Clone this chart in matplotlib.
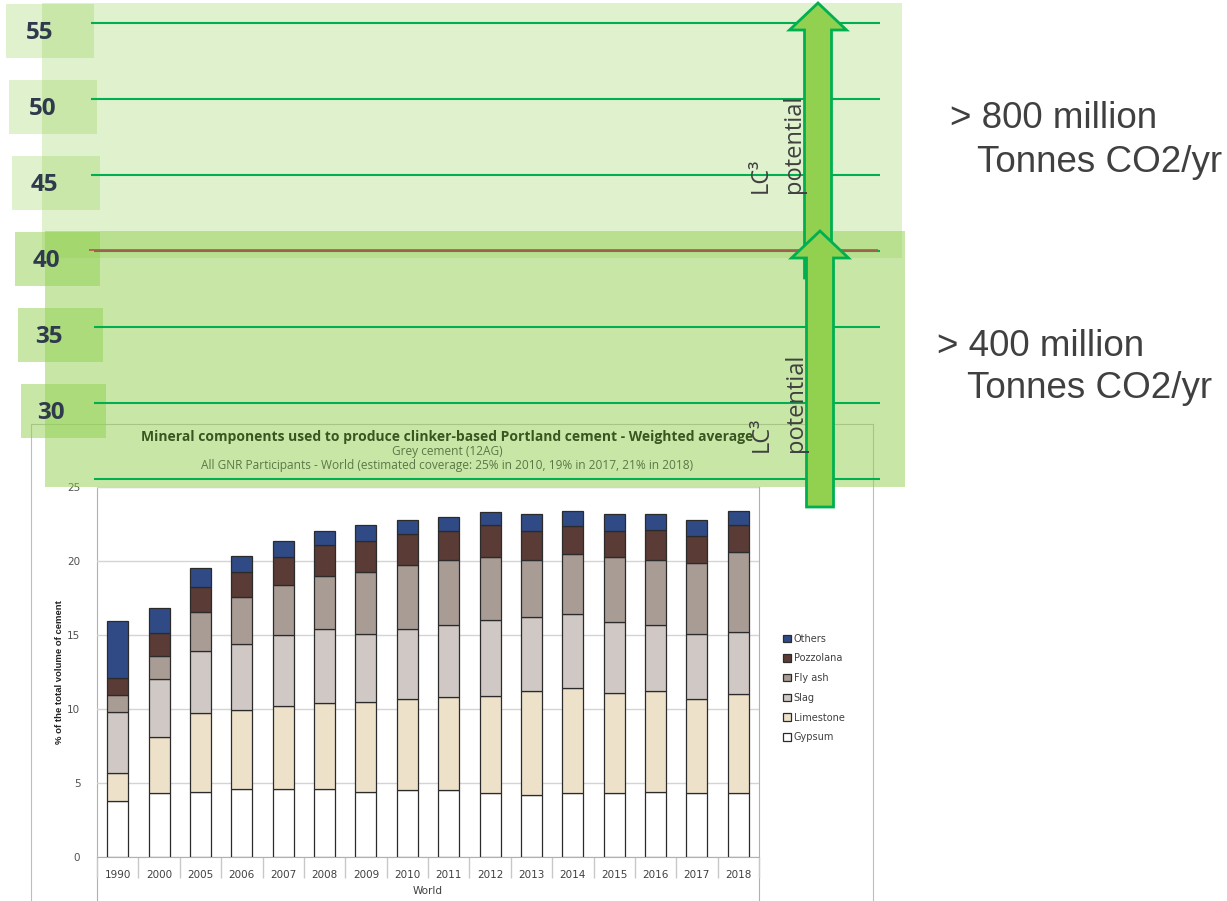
import matplotlib.pyplot as plt
import matplotlib.transforms as mtransforms
from matplotlib.patches import Rectangle, FancyArrow
import numpy as np

W, H = 1227, 901

# stacked bar data (% of the total volume of cement)
years = ['1990', '2000', '2005', '2006', '2007', '2008', '2009', '2010',
         '2011', '2012', '2013', '2014', '2015', '2016', '2017', '2018']
gypsum = [3.8, 4.3, 4.4, 4.6, 4.6, 4.6, 4.4, 4.5, 4.5, 4.3, 4.2, 4.3, 4.3, 4.4, 4.3, 4.3]
limestone = [1.9, 3.8, 5.3, 5.3, 5.6, 5.8, 6.1, 6.2, 6.3, 6.6, 7.0, 7.1, 6.8, 6.8, 6.4, 6.7]
slag = [4.1, 3.9, 4.2, 4.5, 4.8, 5.0, 4.6, 4.7, 4.9, 5.1, 5.0, 5.0, 4.8, 4.5, 4.4, 4.2]
fly_ash = [1.15, 1.55, 2.65, 3.15, 3.4, 3.6, 4.15, 4.35, 4.4, 4.3, 3.85, 4.05, 4.4, 4.4, 4.75, 5.4]
pozzolana = [1.15, 1.6, 1.7, 1.7, 1.9, 2.05, 2.1, 2.05, 1.95, 2.15, 2.0, 1.9, 1.75, 2.0, 1.85, 1.8]
others = [3.85, 1.7, 1.3, 1.1, 1.05, 1.0, 1.1, 1.0, 0.95, 0.85, 1.1, 1.0, 1.15, 1.1, 1.05, 1.0]

components = ['Gypsum', 'Limestone', 'Slag', 'Fly ash', 'Pozzolana', 'Others']
series = [gypsum, limestone, slag, fly_ash, pozzolana, others]
colors = ['#ffffff', '#ede1c9', '#cfc8c5', '#a89c95', '#5b3b36', '#2f4a85']

# overlay scale (levels on the left)
levels = [25, 30, 35, 40, 45, 50, 55]
level_labels = [55, 50, 45, 40, 35, 30]
current_level = 40

chart_title = 'Mineral components used to produce clinker-based Portland cement - Weighted average'
chart_sub1 = 'Grey cement (12AG)'
chart_sub2 = 'All GNR Participants - World (estimated coverage: 25% in 2010, 19% in 2017, 21% in 2018)'

savings = [['> 800 million', 'Tonnes CO2/yr'], ['> 400 million', 'Tonnes CO2/yr']]

GREEN = '#92d050'
DKGREEN = '#00b050'
TXT = '#404040'


def fx(x):
    return x / W


def fy(y):
    return 1 - y / H


fig = plt.figure(figsize=(W / 100, H / 100), dpi=100)

# outer chart frame and inner plot frame
ax_frame = fig.add_axes([fx(31), fy(905), (873 - 31) / W, (905 - 424) / H])
ax_frame.set_xticks([])
ax_frame.set_yticks([])
for s in ax_frame.spines.values():
    s.set_color('#bdbdbd')
ax_frame.set_zorder(0)

ax_in = fig.add_axes([fx(97), fy(905), (759 - 97) / W, (905 - 487) / H])
ax_in.set_xticks([])
ax_in.set_yticks([])
ax_in.patch.set_alpha(0)
for s in ax_in.spines.values():
    s.set_color('#b0b0b0')
ax_in.spines['bottom'].set_visible(False)
ax_in.set_zorder(1)

# the bar chart itself
ax = fig.add_axes([fx(97), fy(857), (759 - 97) / W, (857 - 487) / H])
ax.set_zorder(2)
ax.patch.set_alpha(0)
x = np.arange(len(years))
bottom = np.zeros(len(years))
handles = []
for name, vals, c in zip(components, series, colors):
    b = ax.bar(x, vals, 0.51, bottom=bottom, color=c, edgecolor='#2b2b2b',
               linewidth=0.9, label=name, zorder=3)
    handles.append(b)
    bottom += np.array(vals)

ax.set_xlim(-0.5, len(years) - 0.5)
ax.set_ylim(0, 25)
ax.set_yticks(range(0, 26, 5))
ax.grid(axis='y', color='#d4d4d4', linewidth=1)
ax.set_axisbelow(True)
ax.set_xticks(x)
ax.set_xticklabels(years)
ax.set_xticks(np.arange(-0.5, len(years)), minor=True)
ax.tick_params(axis='x', which='major', length=0, pad=9, labelsize=7.5, labelcolor=TXT)
ax.tick_params(axis='x', which='minor', length=15, color='#c8c8c8', width=1)
ax.tick_params(axis='y', length=0, pad=12, labelsize=7.5, labelcolor='#505050')
for s in ['top', 'right', 'left']:
    ax.spines[s].set_visible(False)
ax.spines['bottom'].set_color('#b0b0b0')

ax.set_ylabel('% of the total volume of cement', fontsize=6.8, fontweight='bold',
              family='Liberation Sans', color='#222222')
ax.yaxis.set_label_coords(-0.05, 0.5)
ax.set_xlabel('World', fontsize=7.5, color=TXT)
ax.xaxis.set_label_coords(0.5, -0.078)

ax.legend(handles[::-1], components[::-1], loc='center left',
          bbox_to_anchor=(fx(778), fy(688)), bbox_transform=fig.transFigure,
          frameon=False, fontsize=7, handlelength=0.8, handleheight=0.8,
          handletextpad=0.3, labelspacing=1.0, borderpad=0, labelcolor=TXT)

# green overlay rectangles (pixel coordinates)
ax_ov = fig.add_axes([0, 0, 1, 1])
ax_ov.set_xlim(0, W)
ax_ov.set_ylim(H, 0)
ax_ov.axis('off')
ax_ov.set_zorder(5)
ax_ov.add_patch(Rectangle((42, 3), 860, 255, facecolor=GREEN, alpha=0.28, lw=0))
ax_ov.add_patch(Rectangle((45, 231), 860, 256, facecolor=GREEN, alpha=0.5, lw=0))

# chart titles, seen through the overlay
ax_ov.text(447, 437, chart_title, ha='center', va='center', fontsize=10,
           fontweight='bold', family='Open Sans', color='#3a5520')
ax_ov.text(447, 452, chart_sub1, ha='center', va='center', fontsize=8.6,
           family='Open Sans', color='#5a7845')
ax_ov.text(447, 466, chart_sub2, ha='center', va='center', fontsize=8.6,
           family='Open Sans', color='#5a7845')

# level lines and labels (value coordinates on y)
px_per_unit = 15.2
top_val = max(levels) + 23 / px_per_unit
ax_lv = fig.add_axes([0, 0, 1, 1])
ax_lv.set_xlim(0, W)
ax_lv.set_ylim(top_val - H / px_per_unit, top_val)
ax_lv.axis('off')
ax_lv.set_zorder(6)
for i, v in enumerate(level_labels):
    ax_lv.add_patch(Rectangle((6 + 3 * i, v - 35 / px_per_unit), 88 if i < 3 else 85,
                              54 / px_per_unit, facecolor=GREEN,
                              alpha=0.28 if v > current_level else 0.5, lw=0, zorder=1))
    ax_lv.text(40 + 2.2 * i, v - 10 / px_per_unit, str(v), ha='center', va='center',
               fontsize=17.5, fontweight='bold', family='Open Sans', color='#2f3b4c', zorder=4)
ax_lv.hlines([v for v in levels if v > current_level], 91, 880, color=DKGREEN,
             linewidth=1.5, zorder=2)
ax_lv.hlines([v for v in levels if v <= current_level], 94, 880, color=DKGREEN,
             linewidth=1.5, zorder=2)
red_tr = mtransforms.offset_copy(ax_lv.transData, fig=fig, x=0, y=1.5, units='dots')
ax_lv.hlines([current_level], 89, 878, color='#c0504d', linewidth=1.2, zorder=3,
             transform=red_tr)

# arrows and annotation texts
ax_fx = fig.add_axes([0, 0, 1, 1])
ax_fx.set_xlim(0, W)
ax_fx.set_ylim(H, 0)
ax_fx.axis('off')
ax_fx.set_zorder(7)
ax_fx.add_patch(FancyArrow(818, 278, 0, -275, width=27, head_width=57, head_length=27,
                           length_includes_head=True, facecolor=GREEN,
                           edgecolor=DKGREEN, linewidth=2))
ax_fx.add_patch(FancyArrow(820, 507, 0, -276, width=27, head_width=57, head_length=27,
                           length_includes_head=True, facecolor=GREEN,
                           edgecolor=DKGREEN, linewidth=2))

for ybot, dx in [(193, 0), (452, 1)]:
    ax_fx.text(761 + dx, ybot, 'LC³', rotation=90, ha='center', va='bottom',
               fontsize=17, family='Open Sans', color=TXT)
    ax_fx.text(794 + 2 * dx, ybot, 'potential', rotation=90, ha='center', va='bottom',
               fontsize=17, family='Open Sans', color=TXT)

for (l1, l2), (x1, x2, y1, y2) in zip(savings, [(950, 977, 119, 163), (937, 967, 347, 389)]):
    ax_fx.text(x1, y1, l1, ha='left', va='center', fontsize=26.5,
               family='Liberation Sans', color=TXT)
    ax_fx.text(x2, y2, l2, ha='left', va='center', fontsize=26.5,
               family='Liberation Sans', color=TXT)

fig.savefig('out.png', dpi=100)
